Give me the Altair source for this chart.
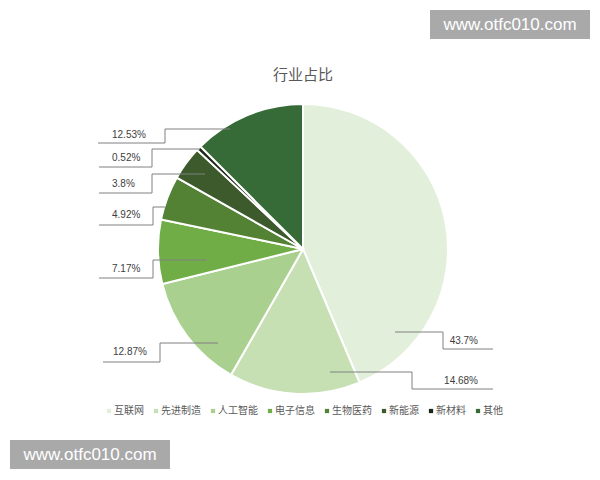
import altair as alt
import pandas as pd

# Sector shares (%), clockwise from 12 o'clock
sectors = ["互联网", "先进制造", "人工智能", "电子信息", "生物医药", "新能源", "新材料", "其他"]
shares = [43.7, 14.68, 12.87, 7.17, 4.92, 3.8, 0.52, 12.53]
palette = ["#e2efda", "#c6e0b4", "#a9d08e", "#70ad47", "#548235", "#3d5a2c", "#1b2616", "#366b38"]

chart_title = "行业占比"
site_text = "www.otfc010.com"

W, H = 600, 480
CX, CY, R = 303, 249, 145

# Leader-line elbows (pixel layout) for each sector's value label
leader_paths = [
    [(395, 332), (443, 332), (443, 349), (493, 349)],
    [(330, 372), (412, 372), (412, 389), (493, 389)],
    [(218, 343), (160, 343), (160, 362), (103, 362)],
    [(207, 260), (153, 260), (153, 278), (99, 278)],
    [(165, 207), (153, 207), (153, 225), (99, 225)],
    [(205, 174), (152, 174), (152, 193), (99, 193)],
    [(200, 149), (152, 149), (152, 167), (99, 167)],
    [(230, 129), (165, 129), (165, 143), (98, 143)],
]
# Text anchor for each value label: x, y, side
label_anchor = [
    (478, 341, "right"),
    (478, 381, "right"),
    (113, 352, "left"),
    (112, 269, "left"),
    (112, 215, "left"),
    (112, 184, "left"),
    (112, 158, "left"),
    (112, 135, "left"),
]

pie_df = pd.DataFrame({"sector": sectors, "share": shares, "idx": range(len(sectors))})

line_rows = []
for s, path in zip(sectors, leader_paths):
    for k, (px, py) in enumerate(path):
        line_rows.append({"sector": s, "step": k, "px": px, "py": py})
lines_df = pd.DataFrame(line_rows)

labels_df = pd.DataFrame({
    "sector": sectors,
    "label": [f"{v:g}%" for v in shares],
    "px": [a[0] for a in label_anchor],
    "py": [a[1] for a in label_anchor],
    "side": [a[2] for a in label_anchor],
})

xs = alt.Scale(domain=[0, W], range=[0, W], nice=False, zero=False)
ys = alt.Scale(domain=[0, H], range=[0, H], nice=False, zero=False)

pie = alt.Chart(pie_df).mark_arc(radius=R, stroke="white", strokeWidth=2).encode(
    theta=alt.Theta("share:Q", stack=True),
    order=alt.Order("idx:Q"),
    color=alt.Color(
        "sector:N",
        scale=alt.Scale(domain=sectors, range=palette),
        legend=alt.Legend(
            title=None,
            orient="none",
            legendX=104,
            legendY=406,
            direction="horizontal",
            columns=8,
            symbolType="square",
            symbolSize=18,
            symbolStrokeWidth=0,
            labelFont="Noto Sans CJK SC",
            labelFontSize=10,
            labelColor="#595959",
            labelOffset=0,
            columnPadding=7,
            padding=0,
        ),
    ),
    x=alt.value(CX),
    y=alt.value(CY),
)

leaders = alt.Chart(lines_df).mark_line(color="#808080", strokeWidth=1).encode(
    x=alt.X("px:Q", scale=xs, axis=None),
    y=alt.Y("py:Q", scale=ys, axis=None),
    detail="sector:N",
    order="step:Q",
)

text_base = alt.Chart(labels_df).encode(
    x=alt.X("px:Q", scale=xs, axis=None),
    y=alt.Y("py:Q", scale=ys, axis=None),
    text="label:N",
)
left_labels = text_base.transform_filter(alt.datum.side == "left").mark_text(
    align="left", baseline="middle", font="Liberation Sans", fontSize=10, color="#404040"
)
right_labels = text_base.transform_filter(alt.datum.side == "right").mark_text(
    align="right", baseline="middle", font="Liberation Sans", fontSize=10, color="#404040"
)

title_df = pd.DataFrame({"t": [chart_title], "px": [303], "py": [75]})
title = alt.Chart(title_df).mark_text(
    font="Noto Sans CJK SC", fontSize=15, color="#595959", baseline="middle"
).encode(
    x=alt.X("px:Q", scale=xs, axis=None),
    y=alt.Y("py:Q", scale=ys, axis=None),
    text="t:N",
)

# Site stamps
stamp_df = pd.DataFrame({
    "t": [site_text, site_text],
    "x0": [430, 10], "x1": [590, 170],
    "y0": [10, 440], "y1": [39, 469],
})
stamp_box = alt.Chart(stamp_df).mark_rect(color="#a9a9a9").encode(
    x=alt.X("x0:Q", scale=xs, axis=None), x2="x1:Q",
    y=alt.Y("y0:Q", scale=ys, axis=None), y2="y1:Q",
)
stamp_text = alt.Chart(stamp_df).transform_calculate(
    cx="(datum.x0 + datum.x1) / 2", cy="(datum.y0 + datum.y1) / 2"
).mark_text(
    font="Liberation Sans", fontSize=17, color="white", baseline="middle"
).encode(
    x=alt.X("cx:Q", scale=xs, axis=None),
    y=alt.Y("cy:Q", scale=ys, axis=None),
    text="t:N",
)

chart = alt.layer(
    pie, leaders, left_labels, right_labels, title, stamp_box, stamp_text
).properties(
    width=W, height=H, padding=0, autosize=alt.AutoSizeParams(type="none"),
    background="white",
).configure_view(stroke=None)

chart.save("out.html", embed_options={"renderer": "svg", "actions": False})
